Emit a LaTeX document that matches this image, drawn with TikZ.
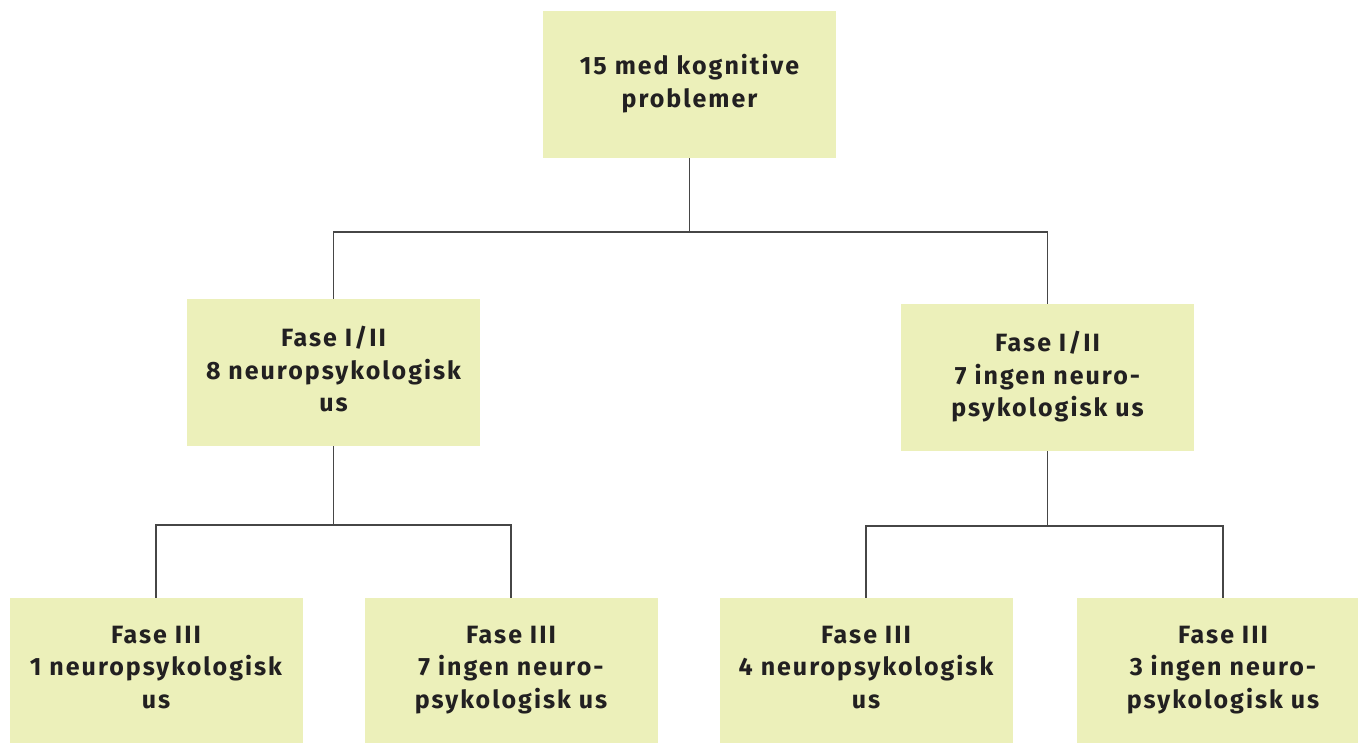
\documentclass[tikz,border=0pt]{standalone}
\usepackage{fontspec}
\setmainfont{Fira Sans}[LetterSpace=8]
\definecolor{boxfill}{RGB}{236,240,186}
\definecolor{linegray}{RGB}{70,70,70}
\definecolor{textdark}{RGB}{34,32,33}
\begin{document}
\begin{tikzpicture}[x=1pt,y=-1pt,
  stage/.style={fill=boxfill, draw=none, minimum width=293pt, minimum height=147pt,
    align=center, inner sep=0pt, text=textdark,
    font=\fontsize{25}{32.5}\selectfont\bfseries,
    execute at end node=\rule[-7pt]{0pt}{0pt}},
  link/.style={draw=linegray, line width=1.5pt}]
\useasboundingbox (0,0) rectangle (1358,743);
\clip (0,0) rectangle (1358,743);
% top level
\node[stage] (top) at (689.5,84.5) {15 med kognitive\\problemer};
% phase I/II
\node[stage] (midL) at (333.5,372.5) {Fase I/II\\8 neuropsykologisk\\us};
\node[stage] (midR) at (1047.5,377.5) {Fase I/II\\7 ingen neuro-\\psykologisk us};
% phase III
\node[stage, minimum height=145pt] (b1) at (156,670.5) {Fase III\\1 neuropsykologisk\\us};
\node[stage, minimum height=145pt] (b2) at (511,670.5) {Fase III\\7 ingen neuro-\\psykologisk us};
\node[stage, minimum height=145pt] (b3) at (866,670.5) {Fase III\\4 neuropsykologisk\\us};
\node[stage, minimum height=145pt] (b4) at (1223,670.5) {Fase III\\3 ingen neuro-\\psykologisk us};
% junctions
\coordinate (j0) at (689.5,232);
\coordinate (jL) at (333.5,525);
\coordinate (jR) at (1047.5,526);
% connectors
\draw[link] (top.south) -- (j0) -| (midL.north);
\draw[link] (j0) -| (midR.north);
\draw[link] (midL.south) -- (jL) -| (b1.north);
\draw[link] (jL) -| (b2.north);
\draw[link] (midR.south) -- (jR) -| (b3.north);
\draw[link] (jR) -| (b4.north);
\end{tikzpicture}
\end{document}
